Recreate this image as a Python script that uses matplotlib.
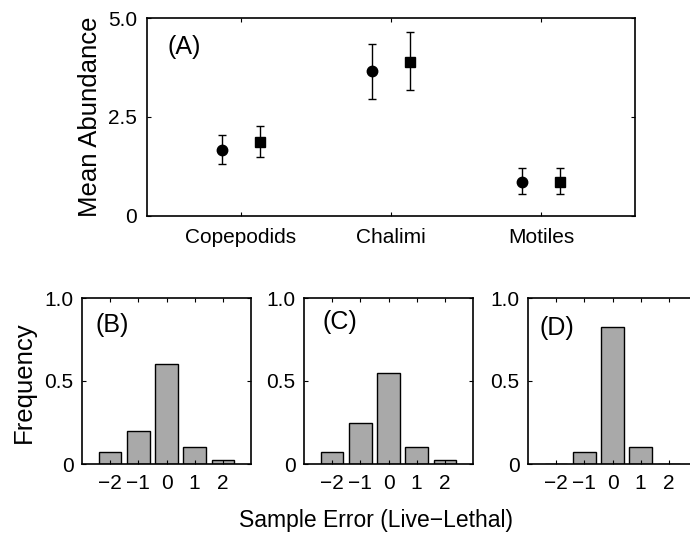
import numpy as np
import matplotlib.pyplot as plt

plt.rcParams['font.family'] = ['Liberation Sans', 'DejaVu Sans']

# panel A data
stages = ["Copepodids", "Chalimi", "Motiles"]
live_mean = [1.67, 3.65, 0.87]
live_lo = [1.31, 2.96, 0.55]
live_hi = [2.05, 4.35, 1.22]
lethal_mean = [1.87, 3.90, 0.87]
lethal_lo = [1.49, 3.19, 0.55]
lethal_hi = [2.27, 4.64, 1.22]

# panels B-D data
errors = [-2, -1, 0, 1, 2]
freq_b = [0.075, 0.2, 0.6, 0.1, 0.025]
freq_c = [0.075, 0.25, 0.55, 0.1, 0.025]
freq_d = [0.0, 0.075, 0.825, 0.1, 0.0]

W, H = 690, 542
fig = plt.figure(figsize=(W / 100, H / 100), dpi=100)

def px_axes(x0, y0, x1, y1):
    return fig.add_axes([x0 / W, 1 - y1 / H, (x1 - x0) / W, (y1 - y0) / H])

def style(ax):
    ax.tick_params(direction='in', top=True, right=True, length=3, width=0.8,
                   labelsize=15, colors='black')
    for s in ax.spines.values():
        s.set_linewidth(1.2)

# top panel
ax = px_axes(147, 18, 635, 216)
x = np.arange(1, 4)
ax.errorbar(x - 0.125, live_mean,
            yerr=[np.subtract(live_mean, live_lo), np.subtract(live_hi, live_mean)],
            fmt='o', color='black', ms=7.5, capsize=3, elinewidth=1, capthick=1)
ax.errorbar(x + 0.125, lethal_mean,
            yerr=[np.subtract(lethal_mean, lethal_lo), np.subtract(lethal_hi, lethal_mean)],
            fmt='s', color='black', ms=6.5, capsize=3, elinewidth=1, capthick=1)
ax.set_xlim(0.373, 3.627)
ax.set_ylim(0, 5)
ax.set_xticks(x)
ax.set_xticklabels(stages)
ax.set_yticks([0, 2.5, 5.0])
ax.set_yticklabels(["0", "2.5", "5.0"])
style(ax)
ax.tick_params(axis='x', pad=9)
ax.tick_params(axis='y', pad=7)
ax.text(0.043, 0.854, "(A)", transform=ax.transAxes, fontsize=18,
        va='center', ha='left')

# bottom panels
lefts = [82, 304, 528]
letters = ["(B)", "(C)", "(D)"]
letter_pos = [(0.077, 0.837), (0.107, 0.855), (0.071, 0.82)]
for left, freq, lab, pos in zip(lefts, [freq_b, freq_c, freq_d], letters, letter_pos):
    a = px_axes(left, 298, left + 169, 464)
    a.bar(errors, freq, width=0.8, color='#a9a9a9', edgecolor='black', linewidth=1)
    a.set_xlim(-3, 3)
    a.set_ylim(0, 1)
    a.set_xticks(errors)
    a.set_xticklabels([str(e).replace('-', '\u2212') for e in errors])
    a.set_yticks([0, 0.5, 1.0])
    a.set_yticklabels(["0", "0.5", "1.0"])
    style(a)
    a.tick_params(axis='x', pad=7)
    a.tick_params(axis='y', pad=6)
    a.text(pos[0], pos[1], lab, transform=a.transAxes, fontsize=18,
           va='center', ha='left')

fig.text(90 / W, 1 - 117 / H, "Mean Abundance", rotation=90, ha='center', va='center', fontsize=18.5)
fig.text(24 / W, 1 - 382 / H, "Frequency", rotation=90, ha='center', va='center', fontsize=18.5)
fig.text(376 / W, 1 - 521 / H, "Sample Error (Live\u2212Lethal)", ha='center', va='center', fontsize=16.5)

fig.savefig("out.png", dpi=100)
